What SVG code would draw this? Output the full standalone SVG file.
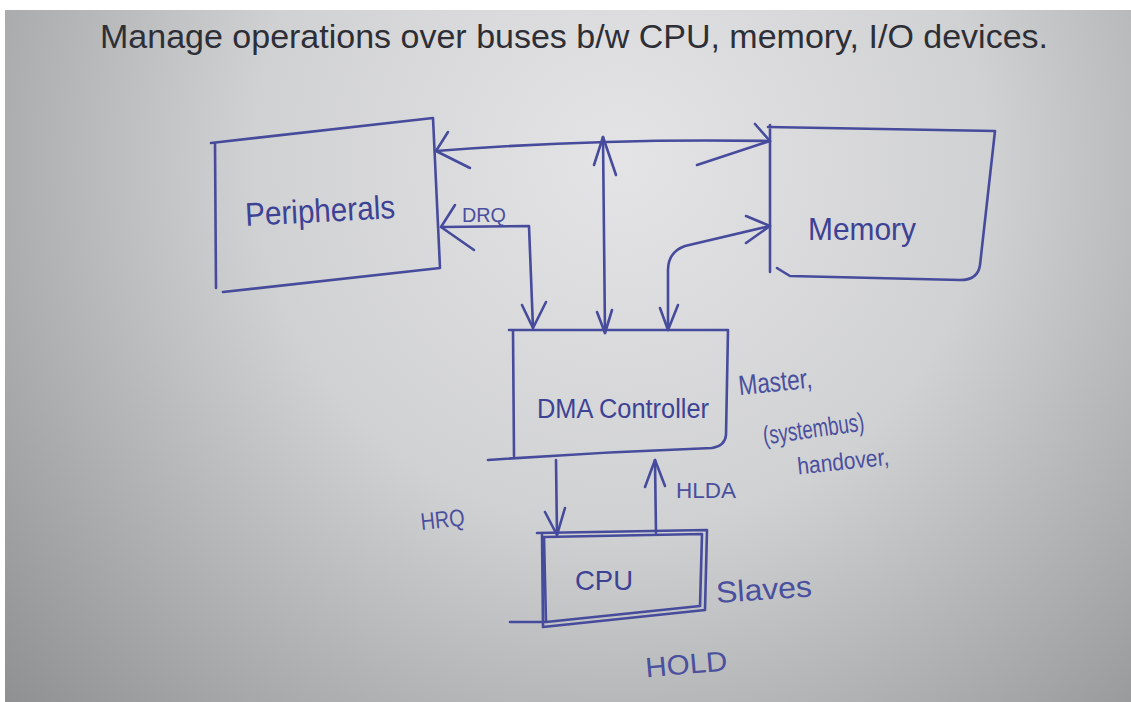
<svg xmlns="http://www.w3.org/2000/svg" width="1131" height="702" viewBox="0 0 1131 702">
<defs>
<radialGradient id="bg" cx="620" cy="160" r="820" gradientUnits="userSpaceOnUse">
<stop offset="0" stop-color="#e4e4e6"/>
<stop offset="0.45" stop-color="#d0d1d3"/>
<stop offset="1" stop-color="#8e9092"/>
</radialGradient>
<style>
.ink{fill:none;stroke:#464b9c;stroke-width:2.6;stroke-linecap:round;stroke-linejoin:round}
.t{font-family:"Liberation Sans",Arial,sans-serif;fill:#3d4294}
.lbl{font-family:"Liberation Sans",Arial,sans-serif;fill:#4a4f9e}
</style>
</defs>
<rect x="0" y="0" width="1131" height="702" fill="url(#bg)"/>
<rect x="0" y="0" width="1131" height="10" fill="#ffffff"/>
<rect x="0" y="0" width="5" height="702" fill="#ffffff"/>
<g id="title">
<text x="100" y="48" font-family="Liberation Sans, Arial, sans-serif" font-size="34" fill="#2e2f36">Manage operations over buses b/w CPU, memory, I/O devices.</text>
</g>

<g id="peripherals">
<path class="ink" d="M211,143 L433,118 L440,268 L223,292 M215,143 L216,288"/>
<text class="t" x="245" y="222" font-size="33" textLength="150" lengthAdjust="spacingAndGlyphs" transform="rotate(-3 320 210)">Peripherals</text>
</g>
<g id="memory">
<path class="ink" d="M770,125 L770,272 M768,127 L995,131 L980,265 Q978,280 960,280 L790,276 Q780,270 777,268"/>
<text class="t" x="808" y="240" font-size="32" textLength="108" lengthAdjust="spacingAndGlyphs">Memory</text>
</g>
<g id="dma">
<path class="ink" d="M509,330 L728,330 L726,435 Q725,446 712,448 M513,330 L514,456 M488,460 Q600,452 712,448"/>
<text class="t" x="537" y="418" font-size="27" textLength="172" lengthAdjust="spacingAndGlyphs">DMA Controller</text>
</g>
<g id="cpu">
<path class="ink" d="M537,533 L707,530 L705,610 L543,627 L542,533 M544,537 L702,534 L700,606 L546,622 Z M510,622 L546,622"/>
<text class="t" x="575" y="590" font-size="28" textLength="58" lengthAdjust="spacingAndGlyphs">CPU</text>
</g>

<g id="connectors">
<path class="ink" d="M436,151 Q600,138 770,141"/>
<path class="ink" d="M448,132 L436,151 L470,168"/>
<path class="ink" d="M755,124 L770,141 L697,165"/>
<path class="ink" d="M603,137 L605,333"/>
<path class="ink" d="M594,165 L603,137 L616,175"/>
<path class="ink" d="M597,312 L605,333 L612,310"/>
<path class="ink" d="M441,227 L529,226 L533,328"/>
<path class="ink" d="M455,205 L441,227 L474,250"/>
<path class="ink" d="M522,305 L533,328 L546,302"/>
<path class="ink" d="M770,226 L685,246 Q668,252 668,270 L668,330"/>
<path class="ink" d="M746,216 L770,226 L746,243"/>
<path class="ink" d="M660,308 L668,330 L678,305"/>
<path class="ink" d="M556,460 L557,535"/>
<path class="ink" d="M545,512 L557,535 L565,508"/>
<path class="ink" d="M656,533 L655,460"/>
<path class="ink" d="M645,487 L655,460 L665,486"/>
</g>

<g id="labels">
<text class="lbl" x="462" y="222" font-size="21" textLength="44" lengthAdjust="spacingAndGlyphs">DRQ</text>
<text class="lbl" x="420" y="528" font-size="24" textLength="44" lengthAdjust="spacingAndGlyphs" transform="rotate(-6 440 515)">HRQ</text>
<text class="lbl" x="676" y="498" font-size="22" textLength="60" lengthAdjust="spacingAndGlyphs">HLDA</text>
<text class="lbl" x="738" y="392" font-size="28" textLength="74" lengthAdjust="spacingAndGlyphs" transform="rotate(-6 770 380)">Master,</text>
<text class="lbl" x="762" y="438" font-size="26" textLength="102" lengthAdjust="spacingAndGlyphs" transform="rotate(-8 810 425)">(systembus)</text>
<text class="lbl" x="797" y="470" font-size="24" textLength="92" lengthAdjust="spacingAndGlyphs" transform="rotate(-6 840 460)">handover,</text>
<text class="lbl" x="716" y="600" font-size="30" textLength="96" lengthAdjust="spacingAndGlyphs" transform="rotate(-4 760 590)">Slaves</text>
<text class="lbl" x="645" y="674" font-size="28" textLength="82" lengthAdjust="spacingAndGlyphs" transform="rotate(-5 685 660)">HOLD</text>
</g>
</svg>
